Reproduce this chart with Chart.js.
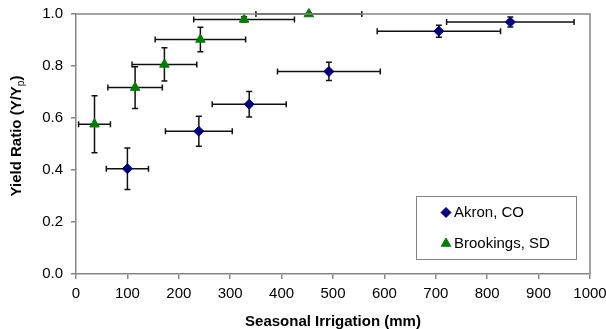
<!DOCTYPE html>
<html>
<head>
<meta charset="utf-8">
<script src="https://cdn.jsdelivr.net/npm/chart.js@4.4.1/dist/chart.umd.min.js"></script>
<style>
  html, body { margin: 0; padding: 0; background: #fff; }
  #wrap { width: 606px; height: 329px; position: relative; }
</style>
</head>
<body>
<div id="wrap"><canvas id="yieldChart"></canvas></div>
<script>
// Akron, CO
const akronX = [100, 239, 337, 492, 706, 845];
const akronY = [0.405, 0.549, 0.653, 0.779, 0.934, 0.969];
const akronXErr = [41, 65, 72, 100, 120, 124];
const akronYErr = [0.08, 0.058, 0.049, 0.035, 0.023, 0.019];

// Brookings, SD
const brookX = [36, 115, 172, 242, 327, 453];
const brookY = [0.576, 0.717, 0.806, 0.902, 0.979, 1.0];
const brookXErr = [31, 53, 63, 88, 98, 103];
const brookYErr = [0.11, 0.08, 0.064, 0.047, 0.01, 0.005];

const seriesNames = ['Akron, CO', 'Brookings, SD'];
const xTitle = 'Seasonal Irrigation (mm)';
const yTitle = ['Yield Ratio (Y/Y', 'p', ')'];

const FONT = "'Liberation Sans', Arial, sans-serif";
const axisGrey = '#868686';

function toPoints(xs, ys, xe, ye) {
    return xs.map((x, i) => ({ x: x, y: ys[i], xErr: xe[i], yErr: ye[i] }));
}

// error bars, drawn under the markers
const errorBars = {
    id: 'errorBars',
    beforeDatasetsDraw(chart) {
        const c = chart.ctx;
        const xs = chart.scales.x, ys = chart.scales.y;
        c.save();
        c.strokeStyle = '#111';
        c.lineWidth = 1.5;
        chart.data.datasets.forEach(ds => {
            ds.data.forEach(p => {
                const px = xs.getPixelForValue(p.x);
                const py = ys.getPixelForValue(p.y);
                const x0 = xs.getPixelForValue(p.x - p.xErr);
                const x1 = xs.getPixelForValue(p.x + p.xErr);
                const y0 = ys.getPixelForValue(p.y - p.yErr);
                const y1 = ys.getPixelForValue(p.y + p.yErr);
                c.beginPath();
                c.moveTo(x0, py); c.lineTo(x1, py);
                c.moveTo(x0, py - 3); c.lineTo(x0, py + 3);
                c.moveTo(x1, py - 3); c.lineTo(x1, py + 3);
                c.moveTo(px, y0); c.lineTo(px, y1);
                c.moveTo(px - 3, y0); c.lineTo(px + 3, y0);
                c.moveTo(px - 3, y1); c.lineTo(px + 3, y1);
                c.stroke();
            });
        });
        c.restore();
    }
};

// frame, axis titles and the boxed legend
const decorations = {
    id: 'decorations',
    afterDraw(chart) {
        const c = chart.ctx;
        const a = chart.chartArea;
        c.save();
        c.strokeStyle = axisGrey;
        c.lineWidth = 1.5;
        c.beginPath();
        c.moveTo(a.left, a.top); c.lineTo(a.right, a.top); c.lineTo(a.right, a.bottom);
        c.stroke();

        // x title
        c.fillStyle = '#000';
        c.font = 'bold 15px ' + FONT;
        c.textAlign = 'center';
        c.textBaseline = 'middle';
        c.fillText(xTitle, (a.left + a.right) / 2, 322);

        // y title with subscript
        c.save();
        c.translate(17, (a.top + a.bottom) / 2 - 8);
        c.rotate(-Math.PI / 2);
        c.textAlign = 'left';
        c.textBaseline = 'middle';
        const boldF = 'bold 15px ' + FONT, subF = '10px ' + FONT;
        c.font = boldF; const w0 = c.measureText(yTitle[0]).width;
        c.font = subF; const w1 = c.measureText(yTitle[1]).width;
        c.font = boldF; const w2 = c.measureText(yTitle[2]).width;
        let sx = -(w0 + w1 + w2) / 2;
        c.font = boldF; c.fillText(yTitle[0], sx, 0); sx += w0;
        c.font = subF; c.fillText(yTitle[1], sx, 4); sx += w1;
        c.font = boldF; c.fillText(yTitle[2], sx, 0);
        c.restore();

        // legend box
        c.fillStyle = '#fff';
        c.fillRect(416, 196, 160, 64);
        c.strokeStyle = axisGrey;
        c.lineWidth = 1;
        c.strokeRect(416.5, 196.5, 160, 63);
        c.font = '15px ' + FONT;
        c.textAlign = 'left';
        c.textBaseline = 'middle';
        const rows = [212.5, 243.5];
        chart.data.datasets.forEach((ds, i) => {
            c.fillStyle = ds.backgroundColor;
            c.strokeStyle = ds.borderColor;
            Chart.helpers.drawPoint(c, {
                pointStyle: ds.pointStyle,
                radius: ds.pointRadius,
                borderWidth: 1,
                rotation: 0
            }, 446, rows[i]);
            c.fillStyle = '#000';
            c.fillText(seriesNames[i], 454, rows[i] + 0.5);
        });
        c.restore();
    }
};

const ctx = document.getElementById('yieldChart').getContext('2d');
new Chart(ctx, {
    type: 'scatter',
    data: {
        datasets: [{
            label: seriesNames[0],
            data: toPoints(akronX, akronY, akronXErr, akronYErr),
            pointStyle: 'rectRot',
            pointRadius: 5,
            backgroundColor: '#000080',
            borderColor: '#000080',
            borderWidth: 1,
            clip: false
        }, {
            label: seriesNames[1],
            data: toPoints(brookX, brookY, brookXErr, brookYErr),
            pointStyle: 'triangle',
            pointRadius: 5.5,
            backgroundColor: '#008000',
            borderColor: '#008000',
            borderWidth: 1,
            clip: false
        }]
    },
    options: {
        responsive: true,
        maintainAspectRatio: false,
        animation: false,
        layout: { padding: { top: 14, right: 16, left: 0, bottom: 0 } },
        plugins: {
            legend: { display: false },
            tooltip: { enabled: false }
        },
        scales: {
            x: {
                type: 'linear',
                min: 0,
                max: 1000,
                ticks: {
                    stepSize: 100,
                    color: '#000',
                    padding: 6,
                    maxRotation: 0,
                    font: { family: FONT, size: 15 },
                    callback: v => String(v)
                },
                grid: { drawOnChartArea: false, tickLength: 5, color: axisGrey, lineWidth: 1.5 },
                border: { color: axisGrey, width: 1.5 },
                afterFit(scale) {
                    scale.height = 55;
                    scale.paddingLeft = 0;
                    scale.paddingRight = 0;
                }
            },
            y: {
                min: 0,
                max: 1,
                ticks: {
                    stepSize: 0.2,
                    color: '#000',
                    padding: 8,
                    font: { family: FONT, size: 15 },
                    callback: v => v.toFixed(1)
                },
                grid: { drawOnChartArea: false, tickLength: 5, color: axisGrey, lineWidth: 1.5 },
                border: { color: axisGrey, width: 1.5 },
                afterFit(scale) {
                    scale.width = 76;
                    scale.paddingTop = 0;
                    scale.paddingBottom = 0;
                }
            }
        }
    },
    plugins: [errorBars, decorations]
});
</script>
</body>
</html>
